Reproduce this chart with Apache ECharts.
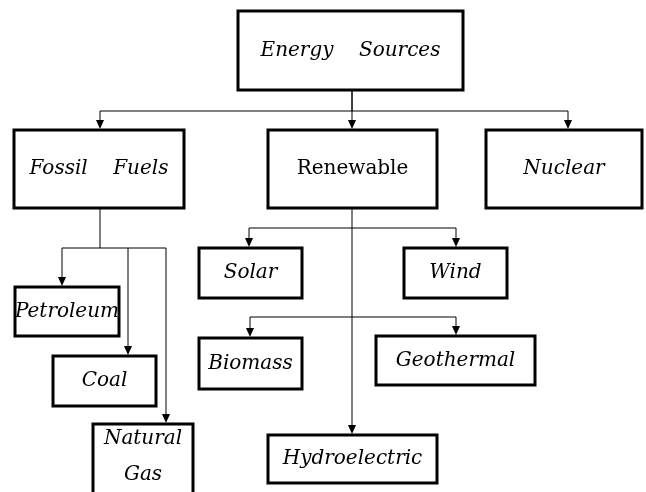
<!DOCTYPE html>
<html>
<head>
<meta charset="utf-8">
<script src="https://cdn.jsdelivr.net/npm/echarts@6/dist/echarts.min.js"></script>
<style>
  html, body { margin: 0; padding: 0; background: #fff; }
  #chart { width: 646px; height: 492px; }
</style>
</head>
<body>
<div id="chart"></div>
<script>
// node labels and their boxes [x1, y1, x2, y2] in diagram units
const nodeNames = [
  'Energy    Sources', 'Fossil    Fuels', 'Renewable', 'Nuclear',
  'Petroleum', 'Coal', 'Natural\nGas',
  'Solar', 'Wind', 'Biomass', 'Geothermal', 'Hydroelectric'
];
const nodeBoxes = [
  [238, 11, 463, 90],
  [14, 130, 184, 208],
  [268, 130, 437, 208],
  [486, 130, 642, 208],
  [15, 287, 119, 336],
  [53, 356, 156, 406],
  [93, 424, 193, 497],
  [199, 248, 302, 298],
  [404, 248, 507, 298],
  [199, 338, 302, 389],
  [376, 336, 535, 385],
  [268, 435, 437, 483]
];
const uprightNodes = ['Renewable'];

// connector paths, arrow on the last point
const edgePaths = [
  [[352, 90], [352, 111], [100, 111], [100, 130]],
  [[352, 90], [352, 130]],
  [[352, 111], [568, 111], [568, 130]],
  [[100, 208], [100, 248], [62, 248], [62, 287]],
  [[100, 248], [128, 248], [128, 356]],
  [[128, 248], [166, 248], [166, 424]],
  [[352, 208], [352, 435]],
  [[352, 228], [249, 228], [249, 248]],
  [[352, 228], [456, 228], [456, 248]],
  [[352, 317], [250, 317], [250, 338]],
  [[352, 317], [456, 317], [456, 336]]
];

const chart = echarts.init(document.getElementById('chart'));

const boxData = nodeBoxes.map((b, i) => [b[0], b[1], b[2], b[3], i]);
const edgeData = edgePaths.map((p, i) => [p[0][0], p[0][1], i]);

chart.setOption({
  animation: false,
  backgroundColor: '#fff',
  grid: { left: 0, right: 0, top: 0, bottom: 0 },
  xAxis: { type: 'value', min: 0, max: 646, show: false },
  yAxis: { type: 'value', min: 0, max: 492, inverse: true, show: false },
  series: [
    {
      type: 'custom',
      z: 2,
      data: boxData,
      renderItem: function (params, api) {
        const p1 = api.coord([api.value(0), api.value(1)]);
        const p2 = api.coord([api.value(2), api.value(3)]);
        const name = nodeNames[api.value(4)];
        const italic = uprightNodes.indexOf(name) < 0;
        return {
          type: 'group',
          children: [
            {
              type: 'rect',
              shape: { x: p1[0], y: p1[1], width: p2[0] - p1[0], height: p2[1] - p1[1] },
              style: { fill: '#fff', stroke: '#000', lineWidth: 3 }
            },
            {
              type: 'text',
              style: {
                text: name,
                x: (p1[0] + p2[0]) / 2,
                y: (p1[1] + p2[1]) / 2 - (name.indexOf('\n') >= 0 ? 4 : 0),
                align: 'center',
                verticalAlign: 'middle',
                fill: '#000',
                fontFamily: 'DejaVu Serif',
                fontStyle: italic ? 'italic' : 'normal',
                fontSize: 20,
                lineHeight: 36
              }
            }
          ]
        };
      }
    },
    {
      type: 'custom',
      z: 3,
      data: edgeData,
      renderItem: function (params, api) {
        const path = edgePaths[api.value(2)].map(pt => api.coord(pt));
        const tip = path[path.length - 1];
        const prev = path[path.length - 2];
        const dx = tip[0] - prev[0], dy = tip[1] - prev[1];
        const len = Math.sqrt(dx * dx + dy * dy) || 1;
        const ux = dx / len, uy = dy / len;
        const h = 10, w = 4;
        const bx = tip[0] - ux * h, by = tip[1] - uy * h;
        return {
          type: 'group',
          children: [
            {
              type: 'polyline',
              shape: { points: path.slice(0, -1).concat([[bx, by]]) },
              style: { stroke: '#000', lineWidth: 1, fill: null }
            },
            {
              type: 'polygon',
              shape: {
                points: [
                  [tip[0] - ux, tip[1] - uy],
                  [bx - uy * w, by + ux * w],
                  [bx + uy * w, by - ux * w]
                ]
              },
              style: { fill: '#000', stroke: null }
            }
          ]
        };
      }
    }
  ]
});
</script>
</body>
</html>
